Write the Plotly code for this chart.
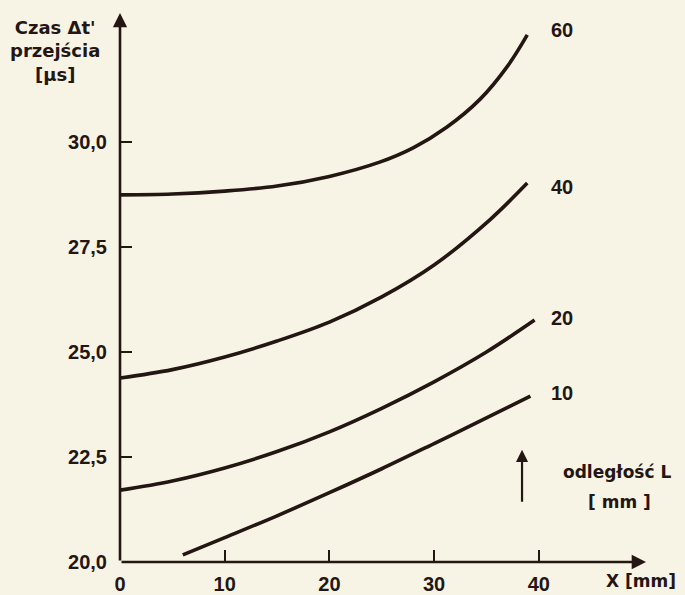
import plotly.graph_objects as go

# Transit time vs. position X for several probe distances L
x_L60 = [0, 5, 10, 15, 20, 24.8, 28, 31.2, 34.4, 37, 38.9]
t_L60 = [28.74, 28.76, 28.83, 28.95, 29.18, 29.52, 29.86, 30.35, 31.02, 31.80, 32.55]

x_L40 = [0, 5, 10, 15, 20, 25, 30, 35.3, 38.9]
t_L40 = [24.38, 24.58, 24.88, 25.26, 25.71, 26.31, 27.07, 28.14, 29.02]

x_L20 = [0, 5, 10, 15, 20, 25, 30, 35, 39.6]
t_L20 = [21.71, 21.93, 22.24, 22.63, 23.1, 23.66, 24.29, 25.0, 25.76]

x_L10 = [6.0, 10, 15, 20, 25, 30, 35, 39.2]
t_L10 = [20.17, 20.58, 21.1, 21.65, 22.22, 22.82, 23.43, 23.95]

series_names = ["60", "40", "20", "10"]
label_yshift = [5, -4, 2, 3]

y_ticks = [20.0, 22.5, 25.0, 27.5, 30.0]
y_ticktext = ["20,0", "22,5", "25,0", "27,5", "30,0"]
x_ticks = [0, 10, 20, 30, 40]
x_ticktext = ["0", "10", "20", "30", "40"]

INK = "#231613"
PAPER = "#f8f4e5"
NUM_FONT = dict(family="Liberation Sans", size=20, color=INK, weight="bold")
TXT_FONT = dict(family="DejaVu Sans", size=17, color=INK, weight="bold")
TITLE_FONT = dict(family="DejaVu Sans", size=18, color=INK, weight="bold")

X_MAX = 50.24
Y_MIN, Y_MAX = 20.0, 33.07
LABEL_X = 41.0

fig = go.Figure()

for xs, ys, name, dy in zip([x_L60, x_L40, x_L20, x_L10],
                            [t_L60, t_L40, t_L20, t_L10],
                            series_names, label_yshift):
    fig.add_trace(go.Scatter(
        x=xs, y=ys, mode="lines", name=name,
        line=dict(color=INK, width=3.6, shape="spline", smoothing=1.0),
        showlegend=False, cliponaxis=False,
    ))
    # curve label to the right of its end point
    fig.add_annotation(x=LABEL_X, y=ys[-1], xref="x", yref="y",
                       text=name, showarrow=False, xanchor="left",
                       yshift=dy, font=NUM_FONT)

# axis arrows
fig.add_annotation(x=X_MAX, y=Y_MIN, ax=0, ay=Y_MIN, xref="x", yref="y",
                   axref="x", ayref="y", showarrow=True, arrowhead=2,
                   arrowsize=1.1, arrowwidth=2.6, arrowcolor=INK, text="")
fig.add_annotation(x=0, y=Y_MAX, ax=0, ay=Y_MIN, xref="x", yref="y",
                   axref="x", ayref="y", showarrow=True, arrowhead=2,
                   arrowsize=1.1, arrowwidth=2.6, arrowcolor=INK, text="")

# direction of increasing L
fig.add_annotation(x=38.4, y=22.67, ax=38.4, ay=21.40, xref="x", yref="y",
                   axref="x", ayref="y", showarrow=True, arrowhead=2,
                   arrowsize=1.1, arrowwidth=2.2, arrowcolor=INK, text="")
fig.add_annotation(x=0.945, y=0.164, xref="paper", yref="paper",
                   xanchor="center", yanchor="middle",
                   text="odległość L", showarrow=False, font=TXT_FONT)
fig.add_annotation(x=0.95, y=0.109, xref="paper", yref="paper",
                   xanchor="center", yanchor="middle",
                   text="[ mm ]", showarrow=False, font=TXT_FONT)

# axis titles
fig.add_annotation(x=0.99, y=-0.034, xref="paper", yref="paper",
                   xanchor="center", yanchor="middle",
                   text="X [mm]", showarrow=False, font=TXT_FONT)
fig.add_annotation(x=-0.124, y=1.0, xref="paper", yref="paper",
                   text="Czas Δt'<br>przejścia<br>[μs]", showarrow=False,
                   xanchor="center", yanchor="top", yshift=-2,
                   align="center", font=TITLE_FONT)

fig.update_xaxes(range=[0, X_MAX], showline=False, showgrid=False,
                 zeroline=False, ticks="inside", ticklen=12, tickwidth=2,
                 tickcolor=INK, tickvals=x_ticks, ticktext=x_ticktext,
                 tickfont=NUM_FONT, ticklabelstandoff=8, automargin=False)
fig.update_yaxes(range=[Y_MIN, Y_MAX], showline=False, showgrid=False,
                 zeroline=False, ticks="inside", ticklen=12, tickwidth=2,
                 tickcolor=INK, tickvals=y_ticks, ticktext=y_ticktext,
                 tickfont=NUM_FONT, ticklabelstandoff=12, automargin=False)

fig.update_layout(
    width=685, height=595,
    margin=dict(l=120, r=39, t=13, b=33, autoexpand=False),
    paper_bgcolor=PAPER, plot_bgcolor=PAPER,
    font=dict(family="DejaVu Sans", color=INK),
)

fig.write_html("out.html")
